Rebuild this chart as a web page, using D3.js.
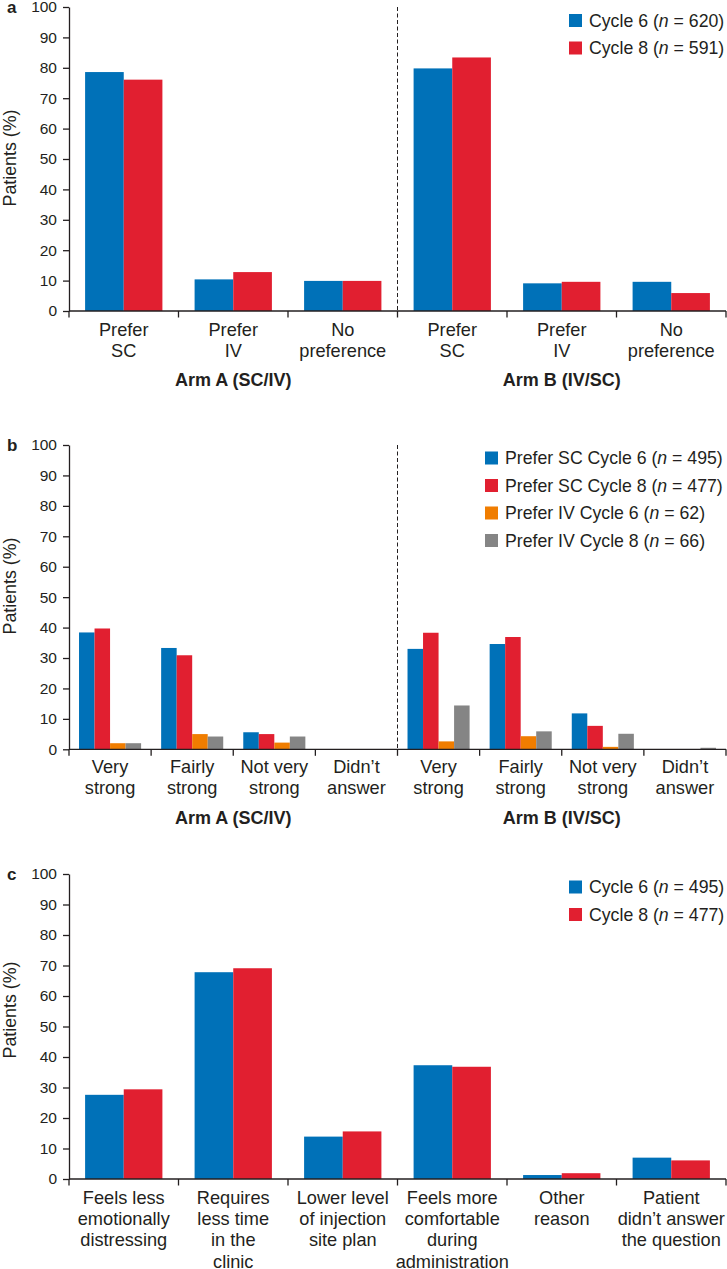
<!DOCTYPE html>
<html>
<head>
<meta charset="utf-8">
<script src="https://cdn.jsdelivr.net/npm/d3@7"></script>
<style>
  html, body { margin: 0; padding: 0; background: #fff; }
  svg { display: block; }
  text { font-family: "Liberation Sans", Arial, Helvetica, sans-serif; fill: #231f20; }
</style>
</head>
<body>
<svg id="chart" width="727" height="1269"></svg>
<script>
// ---------- DATA ----------
const yTicks = [0, 10, 20, 30, 40, 50, 60, 70, 80, 90, 100];

// Panel a
const catsA = [["Prefer", "SC"], ["Prefer", "IV"], ["No", "preference"],
               ["Prefer", "SC"], ["Prefer", "IV"], ["No", "preference"]];
const armLabels = ["Arm A (SC/IV)", "Arm B (IV/SC)"];
const aCycle6 = [78.6, 10.4, 9.9, 79.8, 9.1, 9.6];
const aCycle8 = [76.1, 12.8, 9.9, 83.4, 9.6, 5.9];
const aLegend = [["Cycle 6 (", "n", " = 620)"], ["Cycle 8 (", "n", " = 591)"]];

// Panel b
const catsB = [["Very", "strong"], ["Fairly", "strong"], ["Not very", "strong"], ["Didn\u2019t", "answer"],
               ["Very", "strong"], ["Fairly", "strong"], ["Not very", "strong"], ["Didn\u2019t", "answer"]];
const bScCycle6 = [38.4, 33.3, 5.6, 0, 33.0, 34.6, 11.8, 0];
const bScCycle8 = [39.7, 30.9, 5.0, 0, 38.3, 36.9, 7.7, 0];
const bIvCycle6 = [2.0, 5.0, 2.2, 0, 2.6, 4.3, 0.8, 0];
const bIvCycle8 = [2.0, 4.2, 4.2, 0, 14.4, 5.9, 5.1, 0.5];
const bLegend = [["Prefer SC Cycle 6 (", "n", " = 495)"], ["Prefer SC Cycle 8 (", "n", " = 477)"],
                 ["Prefer IV Cycle 6 (", "n", " = 62)"], ["Prefer IV Cycle 8 (", "n", " = 66)"]];

// Panel c
const catsC = [["Feels less", "emotionally", "distressing"],
               ["Requires", "less time", "in the", "clinic"],
               ["Lower level", "of injection", "site plan"],
               ["Feels more", "comfortable", "during", "administration"],
               ["Other", "reason"],
               ["Patient", "didn\u2019t answer", "the question"]];
const cCycle6 = [27.6, 67.8, 13.9, 37.3, 1.3, 7.0];
const cCycle8 = [29.4, 69.1, 15.6, 36.8, 1.9, 6.1];
const cLegend = [["Cycle 6 (", "n", " = 495)"], ["Cycle 8 (", "n", " = 477)"]];

const colors = { blue: "#0071b8", red: "#e11f30", orange: "#f07d00", gray: "#858585" };

// ---------- DRAW ----------
const svg = d3.select("#chart");
const ink = "#231f20";
const FS = 18.2;
const LFS = 17.7;

function panel(cfg) {
  const g = svg.append("g");
  const n = cfg.cats.length;
  const x = d3.scaleBand().domain(d3.range(n)).range([69, 726]).padding(0);
  const y = d3.scaleLinear().domain([0, 100]).range([cfg.y0, cfg.y100]);
  const bw = x.bandwidth();
  const x1 = d3.scaleBand().domain(d3.range(cfg.series.length))
    .range([bw * cfg.padFrac, bw * (1 - cfg.padFrac)]).padding(0);

  // bars
  cfg.series.forEach((s, si) => {
    g.append("g").selectAll("rect").data(s.values).join("rect")
      .attr("x", (d, i) => x(i) + x1(si))
      .attr("y", d => y(d))
      .attr("width", x1.bandwidth())
      .attr("height", d => y(0) - y(d))
      .attr("fill", s.color);
  });

  // y axis
  const yAxis = d3.axisLeft(y).tickValues(yTicks).tickSize(6).tickPadding(6).tickSizeOuter(0);
  const ya = g.append("g").attr("transform", "translate(69,0)").call(yAxis);
  ya.select(".domain").attr("stroke", ink).attr("stroke-width", 1.3);
  ya.selectAll(".tick line").attr("stroke", ink).attr("stroke-width", 1.3);
  ya.selectAll(".tick text").attr("font-size", 15.5).attr("fill", ink)
    .attr("font-family", "Liberation Sans, Arial, sans-serif");

  // x axis line + boundary ticks
  g.append("line").attr("x1", 69).attr("x2", 726).attr("y1", y(0)).attr("y2", y(0))
    .attr("stroke", ink).attr("stroke-width", 1.3);
  const bounds = d3.range(n + 1).map(i => i < n ? x(i) : x.range()[1]);
  g.append("g").selectAll("line").data(bounds).join("line")
    .attr("x1", d => d).attr("x2", d => d)
    .attr("y1", y(0)).attr("y2", y(0) + 6.5)
    .attr("stroke", ink).attr("stroke-width", 1.3);

  // category labels
  cfg.cats.forEach((lines, i) => {
    const t = g.append("text").attr("text-anchor", "middle").attr("font-size", FS)
      .attr("x", x(i) + bw / 2).attr("y", y(0) + cfg.labelOffset);
    lines.forEach((ln, li) => {
      t.append("tspan").attr("x", x(i) + bw / 2).attr("dy", li === 0 ? 0 : 21.4).text(ln);
    });
  });

  // arms
  if (cfg.arms) {
    const half = n / 2;
    cfg.arms.forEach((lab, ai) => {
      const x0 = x(ai * half), x2 = ai === 0 ? x(half) : x.range()[1];
      g.append("text").attr("text-anchor", "middle").attr("font-weight", "bold")
        .attr("font-size", 18).attr("x", (x0 + x2) / 2).attr("y", y(0) + 75).text(lab);
    });
    // dashed separator
    g.append("line").attr("x1", x(half)).attr("x2", x(half))
      .attr("y1", y(100)).attr("y2", y(0))
      .attr("stroke", ink).attr("stroke-width", 1).attr("stroke-dasharray", "4,2.5");
  }

  // y label
  g.append("text").attr("transform", `translate(16,${cfg.ylabelY}) rotate(-90)`)
    .attr("text-anchor", "middle").attr("font-size", 17.8).text("Patients (%)");

  // panel letter
  g.append("text").attr("x", 7).attr("y", y(100) + 5.5).attr("font-weight", "bold")
    .attr("font-size", 17).text(cfg.letter);

  // legend
  cfg.legend.items.forEach((item, li) => {
    const cy = cfg.legend.y + li * cfg.legend.step;
    g.append("rect").attr("x", cfg.legend.x).attr("y", cy - 6.5).attr("width", 13).attr("height", 13)
      .attr("fill", cfg.series[li].color);
    const t = g.append("text").attr("x", cfg.legend.x + 20).attr("y", cy + 6.4).attr("font-size", LFS);
    t.append("tspan").text(item[0]);
    t.append("tspan").attr("font-style", "italic").text(item[1]);
    t.append("tspan").text(item[2]);
  });
}

panel({
  letter: "a", cats: catsA, y0: 311, y100: 7, padFrac: 0.147, labelOffset: 25, arms: armLabels,
  ylabelY: 158,
  series: [{ values: aCycle6, color: colors.blue }, { values: aCycle8, color: colors.red }],
  legend: { x: 569, y: 20.5, step: 27.5, items: aLegend }
});

panel({
  letter: "b", cats: catsB, y0: 749.3, y100: 445, padFrac: 0.122, labelOffset: 23.5, arms: armLabels,
  ylabelY: 586,
  series: [{ values: bScCycle6, color: colors.blue }, { values: bScCycle8, color: colors.red },
           { values: bIvCycle6, color: colors.orange }, { values: bIvCycle8, color: colors.gray }],
  legend: { x: 485, y: 458, step: 27.5, items: bLegend }
});

panel({
  letter: "c", cats: catsC, y0: 1179, y100: 874, padFrac: 0.147, labelOffset: 24.5, arms: null,
  ylabelY: 1010,
  series: [{ values: cCycle6, color: colors.blue }, { values: cCycle8, color: colors.red }],
  legend: { x: 569, y: 887, step: 27.5, items: cLegend }
});
</script>
</body>
</html>
